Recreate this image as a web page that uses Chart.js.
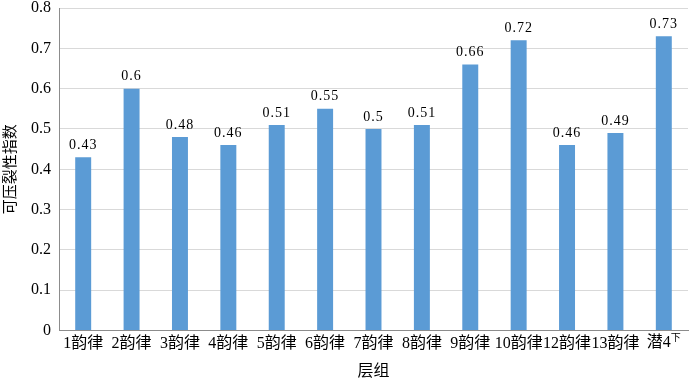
<!DOCTYPE html>
<html>
<head>
<meta charset="utf-8">
<script src="https://cdn.jsdelivr.net/npm/chart.js@4/dist/chart.umd.min.js"></script>
<style>
  html, body { margin: 0; padding: 0; background: #ffffff; }
  #wrap { width: 700px; height: 381px; }
</style>
</head>
<body>
<div id="wrap"><canvas id="chart" width="700" height="381"></canvas></div>
<script>
// Data
const categories = ['1韵律', '2韵律', '3韵律', '4韵律', '5韵律', '6韵律', '7韵律', '8韵律', '9韵律', '10韵律', '12韵律', '13韵律', '潜4下'];
const fracIndex = [0.43, 0.6, 0.48, 0.46, 0.51, 0.55, 0.5, 0.51, 0.66, 0.72, 0.46, 0.49, 0.73];
const yTicks = [0, 0.1, 0.2, 0.3, 0.4, 0.5, 0.6, 0.7, 0.8];

const fontFamily = "'Liberation Serif', 'Noto Sans CJK SC', serif";
const barColor = '#5b9bd5';

// value labels above each bar
const valueLabels = {
    id: 'valueLabels',
    afterDatasetsDraw(chart) {
        const ctx = chart.ctx;
        const meta = chart.getDatasetMeta(0);
        ctx.save();
        ctx.font = '14px ' + fontFamily;
        ctx.letterSpacing = '1px';
        ctx.fillStyle = '#000000';
        ctx.textAlign = 'center';
        ctx.textBaseline = 'bottom';
        meta.data.forEach(function(bar, i) {
            ctx.fillText(String(fracIndex[i]), bar.x, bar.y - 5);
        });
        ctx.restore();
    }
};

// last category has a superscript: 潜4 + 下
const superLabel = {
    id: 'superLabel',
    afterDraw(chart) {
        const ctx = chart.ctx;
        const x = chart.scales.x;
        const i = categories.length - 1;
        const px = x.getPixelForTick(i);
        const y = x.top + 4;
        ctx.save();
        ctx.fillStyle = '#000000';
        ctx.textBaseline = 'top';
        ctx.font = '16px ' + fontFamily;
        const main = '潜4';
        const w = ctx.measureText(main).width;
        ctx.font = '10px ' + fontFamily;
        const sw = ctx.measureText('下').width;
        const start = px - (w + sw) / 2;
        ctx.font = '16px ' + fontFamily;
        ctx.textAlign = 'left';
        ctx.fillText(main, start, y);
        ctx.font = '10px ' + fontFamily;
        ctx.fillText('下', start + w, y - 1);
        ctx.restore();
    }
};

Chart.defaults.font.family = fontFamily;
Chart.defaults.color = '#000000';

new Chart(document.getElementById('chart').getContext('2d'), {
    type: 'bar',
    data: {
        labels: categories,
        datasets: [{
            data: fracIndex,
            backgroundColor: barColor,
            borderWidth: 0,
            barPercentage: 0.33,
            categoryPercentage: 1.0
        }]
    },
    options: {
        responsive: false,
        animation: false,
        layout: { padding: { top: 8, right: 12, left: 2, bottom: 0 } },
        plugins: {
            legend: { display: false },
            tooltip: { enabled: false }
        },
        scales: {
            x: {
                grid: { display: false, drawTicks: false },
                border: { color: '#8c8c8c' },
                ticks: {
                    padding: 4,
                    font: { size: 16 },
                    maxRotation: 0,
                    autoSkip: false,
                    callback: function(value, index) {
                        return index === categories.length - 1 ? '' : categories[index];
                    }
                },
                title: {
                    display: true,
                    text: '层组',
                    font: { size: 16 },
                    padding: { top: 4, bottom: 0 }
                }
            },
            y: {
                min: 0,
                max: 0.8,
                afterBuildTicks: function(axis) {
                    axis.ticks = yTicks.map(function(v) { return { value: v }; });
                },
                afterFit: function(axis) {
                    axis.paddingTop = 0;
                    axis.paddingBottom = 0;
                },
                grid: { color: '#d9d9d9', drawTicks: false },
                border: { color: '#8c8c8c' },
                ticks: {
                    padding: 8,
                    font: { size: 16 },
                    callback: function(value) {
                        return value === 0 ? '0' : value.toFixed(1);
                    }
                },
                title: {
                    display: true,
                    text: '可压裂性指数',
                    font: { size: 15 },
                    padding: { top: 0, bottom: 3 }
                }
            }
        }
    },
    plugins: [valueLabels, superLabel]
});
</script>
</body>
</html>
